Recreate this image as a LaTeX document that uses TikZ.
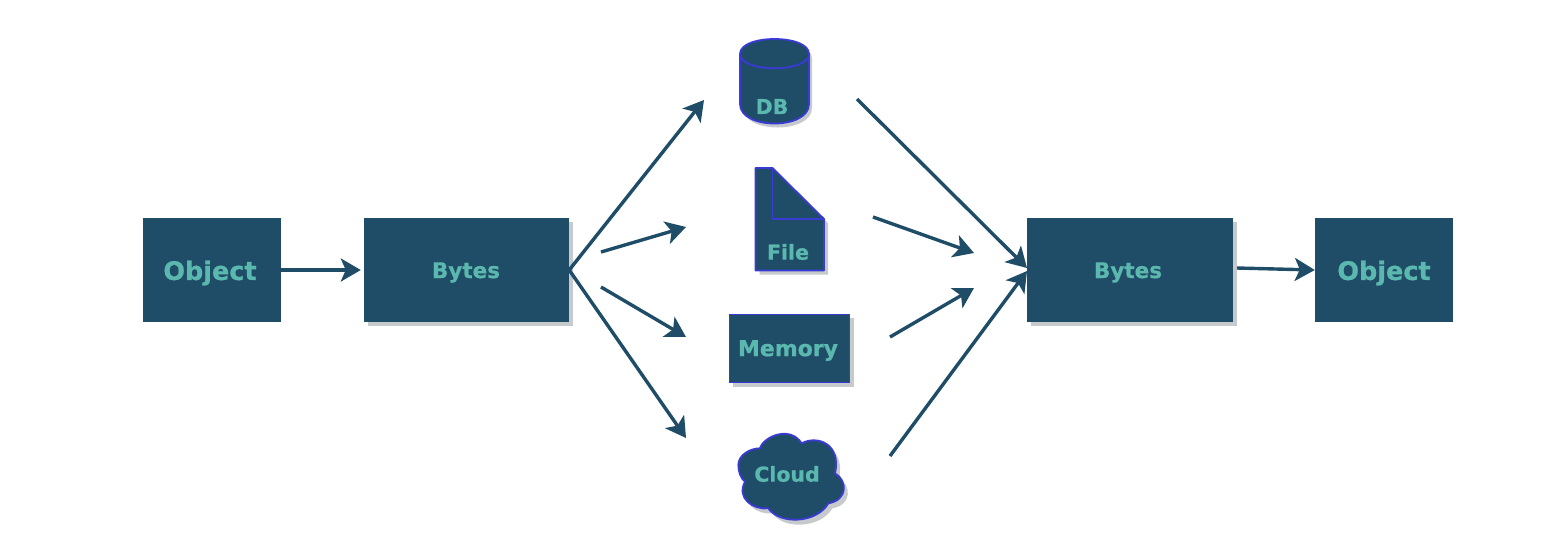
\documentclass[tikz,border=0pt]{standalone}
\usepackage{fontspec}
\setmainfont[BoldFeatures={FakeBold=0.7}]{DejaVu Sans}
\usetikzlibrary{arrows.meta,shadows}
\definecolor{boxfill}{HTML}{1F4D68}
\definecolor{boxtext}{HTML}{5BB8AE}
\definecolor{boxedge}{HTML}{3A3AD4}
\definecolor{shade}{HTML}{C6CACC}
\tikzset{
  conn/.style={draw=boxfill,line width=3.4pt,-{Stealth[length=20pt,width=23pt,inset=5pt]}},
  lab/.style={text=boxtext,font=\bfseries\fontsize{#1}{#1}\selectfont,inner sep=0pt},
  plainbox/.style={fill=boxfill,draw=none,inner sep=0pt,minimum height=104pt},
  shadowbox/.style={plainbox,drop shadow={shadow xshift=4pt,shadow yshift=-4pt,fill=shade,opacity=1}},
  shape item/.style={fill=boxfill,draw=boxedge,line width=1.8pt,line join=round},
  shape shade/.style={fill=shade,draw=none}
}
\newcommand{\cylpath}{(740,54) .. controls (740,34) and (809,34) .. (809,54) -- (809,104)
  .. controls (809,130) and (740,130) .. (740,104) -- cycle}
\newcommand{\filepath}{(755.5,168) -- (772.5,168) -- (824,219) -- (824,270.5) -- (755.5,270.5) -- cycle}
\newcommand{\cloudpath}{(115,495) .. controls (115,465) and (150,445) .. (180,445)
  .. controls (190,410) and (270,375) .. (305,430)
  .. controls (350,405) and (425,430) .. (405,520)
  .. controls (442,540) and (445,600) .. (385,610)
  .. controls (350,670) and (240,675) .. (205,625)
  .. controls (160,630) and (108,595) .. (135,545)
  .. controls (122,535) and (115,515) .. (115,495) -- cycle}
\begin{document}
\begin{tikzpicture}[x=1pt,y=-1pt]
\useasboundingbox (0,0) rectangle (1550,558);
% boxes
\node[plainbox,minimum width=138pt] (obj1) at (212,270) {};
\node[lab=25.5] (obj1t) at (210,273) {Object};
\node[shadowbox,minimum width=205pt] (bytes1) at (466.5,270) {};
\node[lab=21.5] (bytes1t) at (466,272.5) {Bytes};
\node[shadowbox,minimum width=206pt] (bytes2) at (1130,270) {};
\node[lab=21.5] (bytes2t) at (1128,272.5) {Bytes};
\node[plainbox,minimum width=138pt] (obj2) at (1384,270) {};
\node[lab=25.5] (obj2t) at (1384,273) {Object};
% DB cylinder
\begin{scope}[xshift=3pt,yshift=-4pt]
\fill[shape shade] \cylpath;
\end{scope}
\draw[shape item] \cylpath;
\draw[shape item,fill=none] (740,54) .. controls (740,73) and (809,73) .. (809,54);
\node[lab=20.5] (db) at (772,106.5) {DB};
% File
\begin{scope}[xshift=4pt,yshift=-4pt]
\fill[shape shade] \filepath;
\end{scope}
\draw[shape item] \filepath;
\draw[shape item,fill=none] (772.5,168) -- (772.5,219) -- (824,219);
\node[lab=20.5] (file) at (788,252) {File};
% Memory
\fill[shape shade] (733,318) rectangle (854,387);
\node[fill=boxfill,draw=boxedge,line width=1.8pt,inner sep=0pt,minimum width=120pt,minimum height=68pt] (mem) at (789.5,348.5) {};
\node[lab=22] (memt) at (788,350.5) {Memory};
% Cloud
\begin{scope}[xshift=704pt,yshift=-305pt,x=0.33333pt,y=-0.33333pt]
\fill[shape shade] \cloudpath;
\end{scope}
\begin{scope}[xshift=700pt,yshift=-300pt,x=0.33333pt,y=-0.33333pt]
\draw[shape item] \cloudpath;
\end{scope}
\node[lab=20.5] (cloud) at (787,474) {Cloud};
% connector ends
\coordinate (a1) at (704,100);
\coordinate (a2s) at (601,252);
\coordinate (a2) at (686,227);
\coordinate (a3s) at (601,287);
\coordinate (a3) at (686,337);
\coordinate (a4) at (686,438);
\coordinate (b1) at (857,99);
\coordinate (b1e) at (1027,268);
\coordinate (b2) at (873,217);
\coordinate (b2e) at (974,253);
\coordinate (b3) at (890,337);
\coordinate (b3e) at (974,288);
\coordinate (b4) at (890,456);
\coordinate (b4e) at (1027,271);
\coordinate (c1) at (1237,268);
% connectors
\draw[conn,shorten >=3pt] (obj1.east) -- (bytes1.west);
\draw[conn] (bytes1.east) -- (a1);
\draw[conn] (a2s) -- (a2);
\draw[conn] (a3s) -- (a3);
\draw[conn] (bytes1.east) -- (a4);
\draw[conn] (b1) -- (b1e);
\draw[conn] (b2) -- (b2e);
\draw[conn] (b3) -- (b3e);
\draw[conn] (b4) -- (b4e);
\draw[conn] (c1) -- (obj2.west);
\end{tikzpicture}
\end{document}
